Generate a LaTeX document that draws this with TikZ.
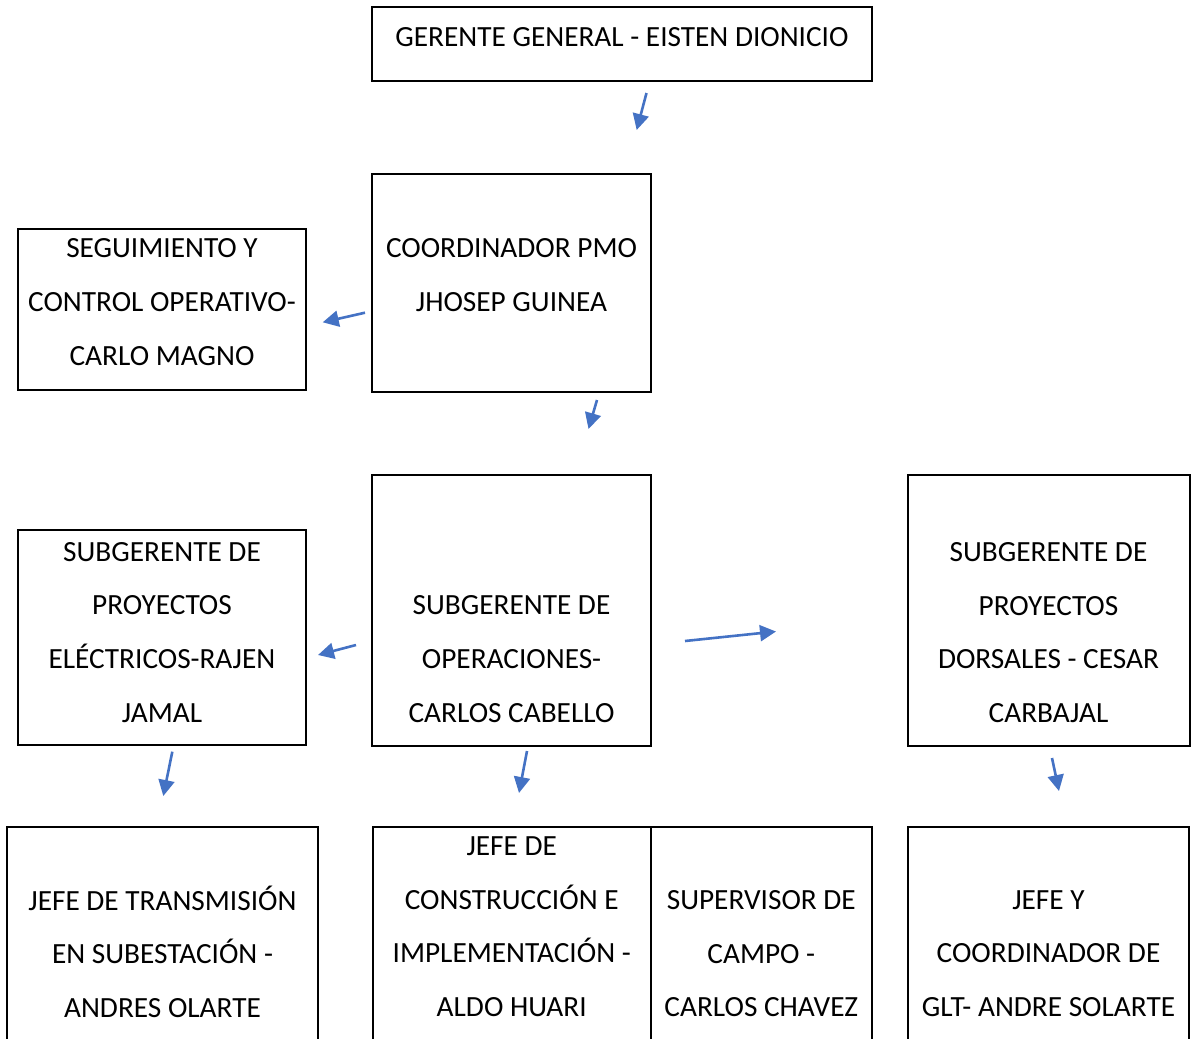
\documentclass[tikz,border=0pt]{standalone}
\usepackage{fontspec}
\setmainfont{Carlito}
\usetikzlibrary{arrows.meta}
\definecolor{azul}{RGB}{68,114,196}
\tikzset{
  caja/.style={draw,line width=2bp,inner sep=0pt,outer sep=0pt,anchor=north west},
  texto/.style={font=\fontsize{29.3bp}{53.7bp}\selectfont,align=center,anchor=north,
    inner sep=0pt,execute at begin node=\strut},
  flecha/.style={azul,line width=2.6bp,-{Triangle[length=16bp,width=16bp]}}
}
\begin{document}
\begin{tikzpicture}[x=1bp,y=-1bp]
  \useasboundingbox (0,0) rectangle (1192,1039);
  \clip (0,0) rectangle (1192,1039);
  % cajas
  \node[caja,minimum width=500bp,minimum height=74bp] (gerente) at (372,7) {};
  \node[caja,minimum width=279bp,minimum height=218bp] (coordinador) at (372,174) {};
  \node[caja,minimum width=288bp,minimum height=161bp] (seguimiento) at (18,229) {};
  \node[caja,minimum width=279bp,minimum height=271bp] (operaciones) at (372,475) {};
  \node[caja,minimum width=288bp,minimum height=215bp] (electricos) at (18,530) {};
  \node[caja,minimum width=282bp,minimum height=271bp] (dorsales) at (907.5,475) {};
  \node[caja,minimum width=311bp,minimum height=250bp] (transmision) at (7,827) {};
  \node[caja,minimum width=278bp,minimum height=250bp] (construccion) at (372.7,827) {};
  \node[caja,minimum width=221bp,minimum height=250bp] (supervisor) at (650.7,827) {};
  \node[caja,minimum width=281bp,minimum height=250bp] (glt) at (908,827) {};
  % textos
  \node[texto] (t-gerente) at (622,8.4) {GERENTE GENERAL - EISTEN DIONICIO};
  \node[texto] (t-coordinador) at (511.5,238.7) {COORDINADOR PMO\\JHOSEP GUINEA};
  \node[texto] (t-seguimiento) at (162,238.7) {SEGUIMIENTO Y\\CONTROL OPERATIVO-\\CARLO MAGNO};
  \node[texto] (t-operaciones) at (511.5,595.7) {SUBGERENTE DE\\OPERACIONES-\\CARLOS CABELLO};
  \node[texto] (t-electricos) at (162,541.9) {SUBGERENTE DE\\PROYECTOS\\EL\'ECTRICOS-RAJEN\\JAMAL};
  \node[texto] (t-dorsales) at (1048.5,542.3) {SUBGERENTE DE\\PROYECTOS\\DORSALES - CESAR\\CARBAJAL};
  \node[texto] (t-construccion) at (511.7,836.5) {JEFE DE\\CONSTRUCCI\'ON E\\IMPLEMENTACI\'ON -\\ALDO HUARI};
  \node[texto] (t-transmision) at (162.5,885.4) {JEFE DE TRANSMISI\'ON\\EN SUBESTACI\'ON -\\ANDRES OLARTE};
  \node[texto] (t-supervisor) at (761.3,890.2) {SUPERVISOR DE\\CAMPO -\\CARLOS CHAVEZ};
  \node[texto] (t-glt) at (1048.5,890.2) {JEFE Y\\COORDINADOR DE\\GLT- ANDRE SOLARTE};
  % flechas
  \coordinate (f1a) at (646.5,93);   \coordinate (f1b) at (636.7,130);
  \coordinate (f2a) at (365,312.7);  \coordinate (f2b) at (322.7,322.3);
  \coordinate (f3a) at (597,400);    \coordinate (f3b) at (588.5,429);
  \coordinate (f4a) at (356,645);    \coordinate (f4b) at (318,655);
  \coordinate (f5a) at (685,641);    \coordinate (f5b) at (776,631.5);
  \coordinate (f6a) at (172.3,751.7);\coordinate (f6b) at (163.3,796);
  \coordinate (f7a) at (527,751);    \coordinate (f7b) at (519,793);
  \coordinate (f8a) at (1052,758);   \coordinate (f8b) at (1059,791);
  \draw[flecha] (f1a) -- (f1b);
  \draw[flecha] (f2a) -- (f2b);
  \draw[flecha] (f3a) -- (f3b);
  \draw[flecha] (f4a) -- (f4b);
  \draw[flecha] (f5a) -- (f5b);
  \draw[flecha] (f6a) -- (f6b);
  \draw[flecha] (f7a) -- (f7b);
  \draw[flecha] (f8a) -- (f8b);
\end{tikzpicture}
\end{document}
